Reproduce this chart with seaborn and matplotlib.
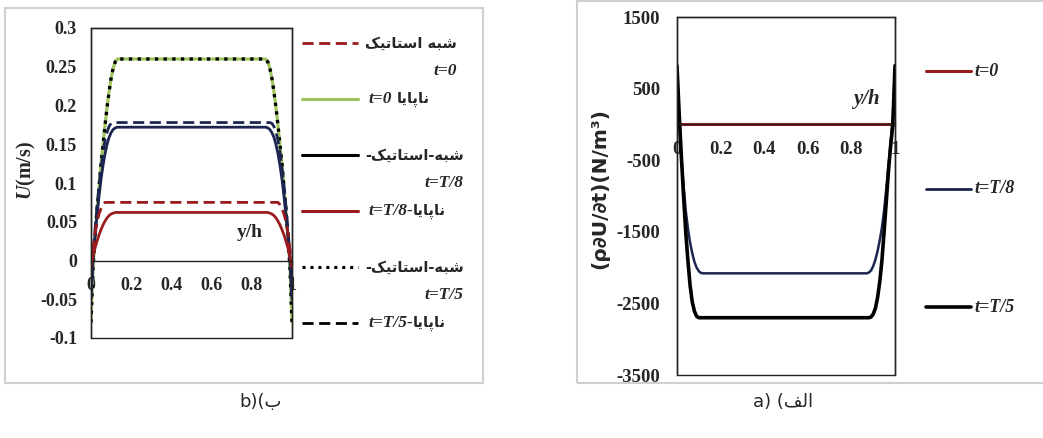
import numpy as np
import pandas as pd
import seaborn as sns
from matplotlib import pyplot as plt
from matplotlib.patches import Rectangle
from matplotlib.lines import Line2D
from matplotlib.ticker import MultipleLocator

# ---- data ----
# panel b: velocity profiles U(m/s) against y/h
yh_b = [0, .01, .02, .03, .04, .05, .06, .07, .08, .09, .10, .11, .12, .13, .14, .5,
        .86, .87, .88, .89, .90, .91, .92, .93, .94, .95, .96, .97, .98, .99, 1.0]
u_unsteady_t0 = [-0.08, -0.01, 0.03, 0.065, 0.095, 0.125, 0.15, 0.175, 0.198, 0.218, 0.235, 0.248, 0.256, 0.26, 0.26, 0.26,
                 0.26, 0.26, 0.256, 0.248, 0.235, 0.218, 0.198, 0.175, 0.15, 0.125, 0.095, 0.065, 0.03, -0.01, -0.08]
u_quasi_t5 = [-0.08, -0.01, 0.03, 0.065, 0.095, 0.125, 0.15, 0.175, 0.198, 0.218, 0.235, 0.248, 0.256, 0.26, 0.26, 0.26,
              0.26, 0.26, 0.256, 0.248, 0.235, 0.218, 0.198, 0.175, 0.15, 0.125, 0.095, 0.065, 0.03, -0.01, -0.08]
u_quasi_t8 = [-0.05, 0.0, 0.03, 0.058, 0.083, 0.105, 0.123, 0.138, 0.15, 0.159, 0.165, 0.169, 0.171, 0.172, 0.172, 0.172,
              0.172, 0.172, 0.171, 0.169, 0.165, 0.159, 0.15, 0.138, 0.123, 0.105, 0.083, 0.058, 0.03, 0.0, -0.05]
u_unsteady_t5 = [-0.05, 0.005, 0.04, 0.07, 0.097, 0.12, 0.14, 0.155, 0.166, 0.173, 0.177, 0.178, 0.178, 0.178, 0.178, 0.178,
                 0.178, 0.178, 0.178, 0.178, 0.177, 0.173, 0.166, 0.155, 0.14, 0.12, 0.097, 0.07, 0.04, 0.005, -0.05]
u_quasi_t0 = [-0.01, 0.015, 0.035, 0.05, 0.06, 0.067, 0.072, 0.075, 0.075, 0.075, 0.075, 0.075, 0.075, 0.075, 0.075, 0.075,
              0.075, 0.075, 0.075, 0.075, 0.075, 0.075, 0.075, 0.075, 0.072, 0.067, 0.06, 0.05, 0.035, 0.015, -0.01]
u_unsteady_t8 = [-0.008, 0.005, 0.016, 0.025, 0.033, 0.04, 0.046, 0.051, 0.055, 0.058, 0.06, 0.061, 0.062, 0.062, 0.062, 0.062,
                 0.062, 0.062, 0.062, 0.061, 0.06, 0.058, 0.055, 0.051, 0.046, 0.04, 0.033, 0.025, 0.016, 0.005, -0.008]

# panel a: rho dU/dt (N/m^3) against y/h
yh_a = [0, .01, .02, .03, .04, .05, .06, .07, .08, .09, .10, .11, .12, .13, .5,
        .87, .88, .89, .90, .91, .92, .93, .94, .95, .96, .97, .98, .99, 1.0]
dudt_t0 = [0] * len(yh_a)
dudt_t8 = [700, 50, -450, -850, -1200, -1450, -1650, -1800, -1920, -2000, -2050, -2075, -2080, -2080, -2080,
           -2080, -2070, -2040, -1980, -1890, -1770, -1620, -1440, -1200, -900, -580, -250, 100, 750]
dudt_t5 = [820, 150, -450, -1000, -1500, -1900, -2250, -2480, -2610, -2680, -2700, -2700, -2700, -2700, -2700,
           -2700, -2700, -2690, -2650, -2570, -2420, -2200, -1900, -1500, -1080, -650, -300, 0, 820]

x_ticks = [0, 0.2, 0.4, 0.6, 0.8, 1.0]
x_ticklabels = ['0', '0.2', '0.4', '0.6', '0.8', '1']
yb_ticks = [-0.1, -0.05, 0, 0.05, 0.1, 0.15, 0.2, 0.25, 0.3]
yb_ticklabels = ['-0.1', '-0.05', '0', '0.05', '0.1', '0.15', '0.2', '0.25', '0.3']
ya_ticks = [-3500, -2500, -1500, -500, 500, 1500]
ya_ticklabels = ['-3500', '-2500', '-1500', '-500', '500', '1500']

# ---- persian shaping (matplotlib has no arabic shaping) ----
FORMS = {
    'ا': ('\uFE8D', '\uFE8E', None, None),
    'ب': ('\uFE8F', '\uFE90', '\uFE91', '\uFE92'),
    'ت': ('\uFE95', '\uFE96', '\uFE97', '\uFE98'),
    'س': ('\uFEB1', '\uFEB2', '\uFEB3', '\uFEB4'),
    'ش': ('\uFEB5', '\uFEB6', '\uFEB7', '\uFEB8'),
    'ن': ('\uFEE5', '\uFEE6', '\uFEE7', '\uFEE8'),
    'ه': ('\uFEE9', '\uFEEA', '\uFEEB', '\uFEEC'),
    'پ': ('\uFB56', '\uFB57', '\uFB58', '\uFB59'),
    'ی': ('\uFBFC', '\uFBFD', '\uFBFE', '\uFBFF'),
    'ک': ('\uFB8E', '\uFB8F', '\uFB90', '\uFB91'),
    'ل': ('\uFEDD', '\uFEDE', '\uFEDF', '\uFEE0'),
    'ف': ('\uFED1', '\uFED2', '\uFED3', '\uFED4'),
}


def fa(s):
    out = []
    for i, c in enumerate(s):
        if c not in FORMS:
            out.append(c)
            continue
        prev = s[i - 1] if i > 0 else ''
        nxt = s[i + 1] if i + 1 < len(s) else ''
        jp = prev in FORMS and FORMS[prev][2] is not None
        jn = nxt in FORMS and FORMS[c][2] is not None
        iso, fin, ini, med = FORMS[c]
        out.append(med if (jp and jn) else fin if jp else ini if jn else iso)
    return ''.join(reversed(out))


RED = '#9a1b1e'
NAVY = '#1b2550'
GREEN = '#9cc45c'

sns.set_style('white')
plt.rcParams['font.family'] = ['Liberation Serif', 'DejaVu Sans']
plt.rcParams['font.weight'] = 'bold'
plt.rcParams['axes.unicode_minus'] = False
plt.rcParams['mathtext.fontset'] = 'custom'
plt.rcParams['mathtext.rm'] = 'Liberation Serif:bold'
plt.rcParams['mathtext.bf'] = 'Liberation Serif:bold'
plt.rcParams['mathtext.it'] = 'Liberation Serif:bold:italic'

W, H = 1043, 438
fig = plt.figure(figsize=(W / 100, H / 100), dpi=100)
fig.patch.set_facecolor('white')


def fx(px):
    return px / W


def fy(py):
    return 1 - py / H


# panel frames
fig.add_artist(Rectangle((fx(5), fy(383)), 478 / W, 375 / H, transform=fig.transFigure,
                         fill=False, ec='#cfcfcf', lw=1.5))
fig.add_artist(Rectangle((fx(577), fy(383)), 480 / W, 382 / H, transform=fig.transFigure,
                         fill=False, ec='#cfcfcf', lw=1.5))

ax_b = fig.add_axes([fx(91), fy(338), 201 / W, 310 / H])
ax_a = fig.add_axes([fx(677), fy(375), 218 / W, 358 / H])

# ---- panel b ----
sns.lineplot(x=yh_b, y=u_unsteady_t0, ax=ax_b, color=GREEN, lw=2.2)
sns.lineplot(x=yh_b, y=u_quasi_t5, ax=ax_b, color='black', lw=2.4, linestyle=(0, (1, 1.6)))
sns.lineplot(x=yh_b, y=u_unsteady_t5, ax=ax_b, color=NAVY, lw=2.0, linestyle=(0, (4, 2)))
sns.lineplot(x=yh_b, y=u_quasi_t8, ax=ax_b, color=NAVY, lw=2.0)
sns.lineplot(x=yh_b, y=u_quasi_t0, ax=ax_b, color=RED, lw=2.0, linestyle=(0, (4, 2)))
sns.lineplot(x=yh_b, y=u_unsteady_t8, ax=ax_b, color=RED, lw=2.0)

ax_b.set_xlim(0, 1)
ax_b.set_ylim(-0.1, 0.3)
ax_b.set_yticks(yb_ticks)
ax_b.set_yticklabels(yb_ticklabels)
ax_b.yaxis.set_minor_locator(MultipleLocator(0.025))
ax_b.set_ylabel(r'$\mathit{U}$(m/s)', fontsize=14.5, fontweight='bold')
ax_b.yaxis.set_label_coords(-0.32, 0.54)
ax_b.yaxis.label.set_va('center')
ax_b.set_xlabel('y/h', fontsize=14, fontweight='bold')
ax_b.xaxis.set_label_coords(0.79, 0.34)
ax_b.xaxis.label.set_va('center')

# ---- panel a ----
sns.lineplot(x=yh_a, y=dudt_t0, ax=ax_a, color=RED, lw=2.2)
sns.lineplot(x=yh_a, y=dudt_t8, ax=ax_a, color=NAVY, lw=1.8)
sns.lineplot(x=yh_a, y=dudt_t5, ax=ax_a, color='black', lw=2.6)

ax_a.set_xlim(0, 1)
ax_a.set_ylim(-3500, 1500)
ax_a.set_yticks(ya_ticks)
ax_a.set_yticklabels(ya_ticklabels)
ax_a.yaxis.set_minor_locator(MultipleLocator(200, offset=100))
ax_a.set_ylabel('(ρ∂U/∂t)(N/m³)', fontsize=14.5, fontweight='bold', family=['DejaVu Sans'])
ax_a.yaxis.set_label_coords(-0.355, 0.52)
ax_a.yaxis.label.set_va('center')
ax_a.set_xlabel('y/h', fontsize=15, fontweight='bold', fontstyle='italic')
ax_a.xaxis.set_label_coords(0.87, 0.77)
ax_a.xaxis.label.set_va('center')

for ax in (ax_a, ax_b):
    ax.set_xticks(x_ticks)
    ax.set_xticklabels(x_ticklabels)
    ax.xaxis.set_minor_locator(MultipleLocator(0.1))
    ax.tick_params(axis='x', which='both', direction='in', length=5, width=1, pad=12)
    ax.spines['bottom'].set_position(('data', 0))
    for sp in ax.spines.values():
        sp.set_color('#222222')
        sp.set_linewidth(1)
    ax.add_patch(Rectangle((0, 0), 1, 1, transform=ax.transAxes, fill=False,
                           ec='#222222', lw=1, clip_on=False))
    ax.set_facecolor('white')

ax_b.tick_params(axis='both', which='major', labelsize=13)
ax_b.tick_params(axis='y', which='both', direction='in', length=4, width=1, pad=10)
ax_a.tick_params(axis='both', which='major', labelsize=13.5)
ax_a.tick_params(axis='y', which='both', direction='in', length=4, width=1, pad=12)

# ---- legend of panel b (drawn by hand, persian labels) ----
FA_FONT = dict(family=['DejaVu Sans'], fontweight='bold', fontstyle='normal', fontsize=10.5)
LAT_FONT = dict(family=['Liberation Serif'], fontweight='bold', fontstyle='italic', fontsize=12.5)

# 'two': persian first line, latin second line; 'one': latin prefix then persian
leg_b = [
    (RED, (0, (4, 2)), 2.0, 'two', fa('شبه استاتیک'), 't=0'),
    (GREEN, '-', 2.2, 'one', 't=0', fa('ناپایا')),
    ('black', '-', 2.2, 'two', fa('شبه-استاتیک-'), 't=T/8'),
    (RED, '-', 2.2, 'one', 't=T/8-', fa('ناپایا')),
    ('black', (0, (1, 1.6)), 2.2, 'two', fa('شبه-استاتیک-'), 't=T/5'),
    ('black', (0, (4, 2)), 2.0, 'one', 't=T/5-', fa('ناپایا')),
]
for i, (c, ls, lw, kind, first, second) in enumerate(leg_b):
    y = 43 + i * 56
    fig.add_artist(Line2D([fx(302), fx(358)], [fy(y), fy(y)], transform=fig.transFigure,
                          color=c, linestyle=ls, lw=lw))
    if kind == 'two':
        t1 = fig.text(fx(365), fy(y), first, ha='left', va='center', **FA_FONT)
        ax_b.annotate(second, xy=(1, 0), xycoords=t1, xytext=(0, -9), textcoords='offset points',
                      ha='right', va='top', annotation_clip=False, **LAT_FONT)
    else:
        t1 = fig.text(fx(368), fy(y), first, ha='left', va='center', **LAT_FONT)
        gap = 4 if first.endswith('0') else 0
        ax_b.annotate(second, xy=(1, 0.5), xycoords=t1, xytext=(gap, 0), textcoords='offset points',
                      ha='left', va='center', annotation_clip=False, **FA_FONT)

# ---- legend of panel a ----
leg_a = [(RED, 2.2, 't=0'), (NAVY, 2.0, 't=T/8'), ('black', 2.6, 't=T/5')]
for i, (c, lw, lab) in enumerate(leg_a):
    y = 71 + i * 118
    fig.add_artist(Line2D([fx(926), fx(971)], [fy(y), fy(y)], transform=fig.transFigure,
                          color=c, lw=lw))
    fig.text(fx(974), fy(y), lab, ha='left', va='center', fontsize=13,
             fontweight='bold', fontstyle='italic')

# ---- captions ----
fig.text(fx(261), fy(402), 'b)(' + fa('ب'), ha='center', va='center', fontsize=13,
         fontweight='normal', family=['Liberation Sans Narrow', 'DejaVu Sans'])
fig.text(fx(783), fy(402), 'a) (' + fa('الف'), ha='center', va='center', fontsize=13,
         fontweight='normal', family=['Liberation Sans Narrow', 'DejaVu Sans'])

plt.savefig('out.png', dpi=100, facecolor='white')
